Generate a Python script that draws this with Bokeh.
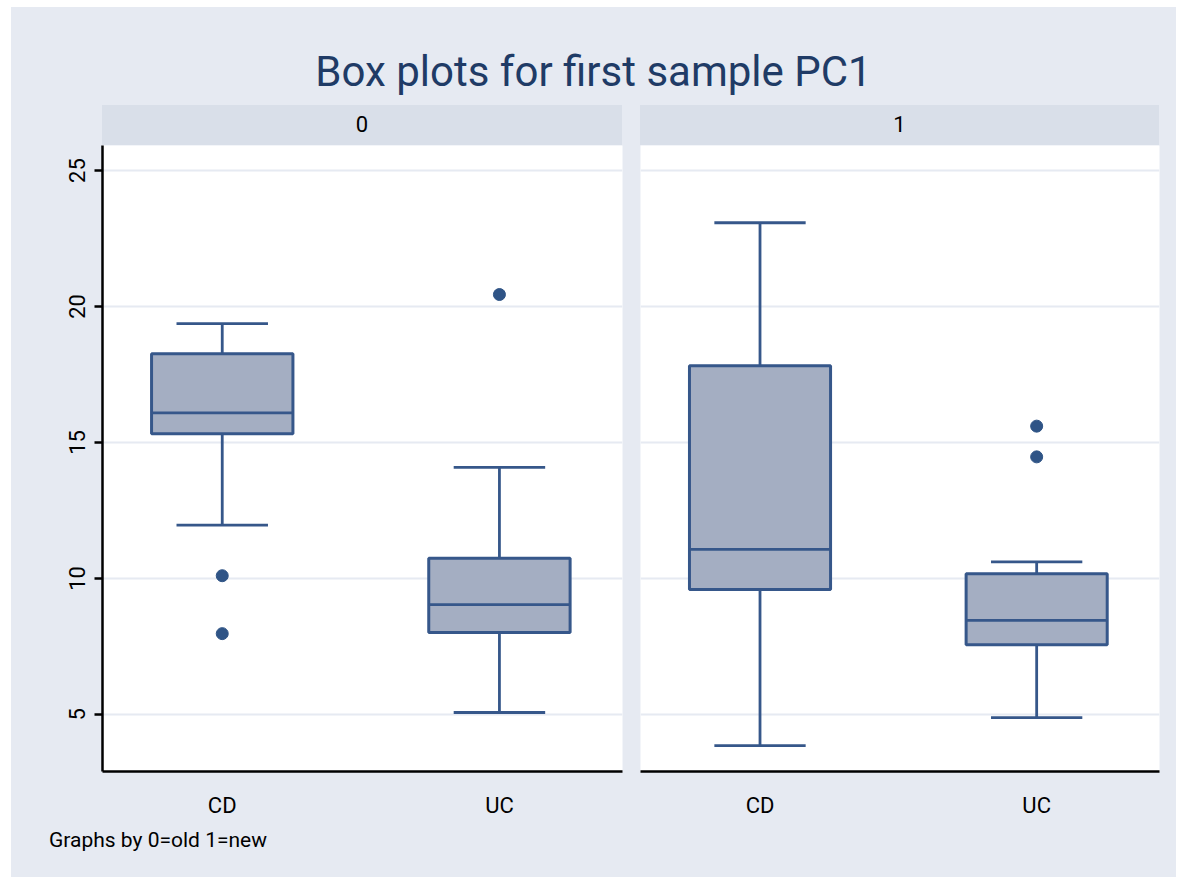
from bokeh.plotting import figure
from bokeh.layouts import column, row
from bokeh.models import Div, FixedTicker, Range1d
from bokeh.embed import file_html
from bokeh.resources import INLINE

# ---- data ----
panels = ["0", "1"]
groups = ["CD", "UC"]
# per panel: [CD, UC]
lower_whisker = {"0": [11.96, 5.07], "1": [3.85, 4.88]}
q1 = {"0": [15.32, 8.01], "1": [9.59, 7.56]}
median = {"0": [16.09, 9.04], "1": [11.07, 8.46]}
q3 = {"0": [18.26, 10.74], "1": [17.82, 10.17]}
upper_whisker = {"0": [19.37, 14.08], "1": [23.08, 10.61]}
outliers = {
    "0": {"CD": [10.10, 7.97], "UC": [20.44]},
    "1": {"CD": [], "UC": [15.60, 14.47]},
}
y_ticks = [5, 10, 15, 20, 25]
title_text = "Box plots for first sample PC1"
note_text = "Graphs by 0=old 1=new"

# ---- style ----
FONT = "Roboto"
BG = "#e6eaf2"
STRIP = "#d9dfe9"
LINE = "#36578a"
FILL = "#a4aec2"
DOT = "#2f5486"
TITLE_C = "#1f3b66"

xpos = [1, 2]
box_w = 0.51
cap_w = 0.33


def make_panel(key, left_axis, width, bl, br):
    p = figure(width=width, height=676, output_backend="svg", toolbar_location=None,
               x_range=Range1d(0.568, 2.444), y_range=Range1d(2.9, 25.92),
               min_border_left=bl, min_border_right=br, min_border_top=0,
               min_border_bottom=50)
    p.background_fill_color = "white"
    p.border_fill_color = BG
    p.outline_line_color = None
    p.xgrid.visible = False
    p.ygrid.ticker = FixedTicker(ticks=y_ticks)
    p.ygrid.grid_line_color = BG
    p.ygrid.grid_line_width = 2

    xa = p.xaxis[0]
    xa.ticker = FixedTicker(ticks=xpos)
    xa.major_label_overrides = {1: groups[0], 2: groups[1]}
    xa.axis_line_color = "black"
    xa.axis_line_width = 2.5
    xa.major_tick_line_color = None
    xa.minor_tick_line_color = None
    xa.major_label_text_font = FONT
    xa.major_label_text_font_size = "22px"
    xa.major_label_text_color = "black"
    xa.major_label_standoff = 15

    ya = p.yaxis[0]
    if left_axis:
        ya.ticker = FixedTicker(ticks=y_ticks)
        ya.axis_line_color = "black"
        ya.axis_line_width = 2.5
        ya.major_tick_line_color = "black"
        ya.major_tick_line_width = 2.5
        ya.major_tick_out = 8
        ya.major_tick_in = 0
        ya.minor_tick_line_color = None
        ya.major_label_orientation = "vertical"
        ya.major_label_text_font = FONT
        ya.major_label_text_font_size = "22px"
        ya.major_label_text_color = "black"
        ya.major_label_standoff = 9
    else:
        ya.visible = False

    lw = lower_whisker[key]
    a = q1[key]
    m = median[key]
    b = q3[key]
    uw = upper_whisker[key]
    # whiskers
    p.segment(x0=xpos, y0=b, x1=xpos, y1=uw, line_color=LINE, line_width=2.8)
    p.segment(x0=xpos, y0=a, x1=xpos, y1=lw, line_color=LINE, line_width=2.8)
    # caps
    p.segment(x0=[x - cap_w / 2 for x in xpos], y0=uw, x1=[x + cap_w / 2 for x in xpos], y1=uw,
              line_color=LINE, line_width=2.8)
    p.segment(x0=[x - cap_w / 2 for x in xpos], y0=lw, x1=[x + cap_w / 2 for x in xpos], y1=lw,
              line_color=LINE, line_width=2.8)
    # boxes
    p.vbar(x=xpos, bottom=a, top=b, width=box_w, fill_color=FILL, line_color=LINE, line_width=3)
    # medians
    p.segment(x0=[x - box_w / 2 for x in xpos], y0=m, x1=[x + box_w / 2 for x in xpos], y1=m,
              line_color=LINE, line_width=2.8)
    # outliers
    ox, oy = [], []
    for i, g in enumerate(groups):
        for v in outliers[key][g]:
            ox.append(xpos[i])
            oy.append(v)
    if ox:
        p.scatter(ox, oy, size=12, fill_color=DOT, line_color=DOT)
    return p


p0 = make_panel("0", True, 620, 91, 9)
p1 = make_panel("1", False, 545, 9, 17)


def strip(label, width, ml, mr):
    return Div(text=f'<div style="width:{width}px;height:40px;line-height:40px;text-align:center;'
                    f'background:{STRIP};font-family:\'{FONT}\';font-size:22px;color:black">{label}</div>',
               width=width, height=40, margin=(0, mr, 0, ml))


s0 = strip(panels[0], 520, 91, 9)
s1 = strip(panels[1], 519, 9, 17)

title = Div(text=f'<div style="width:1165px;height:98px;text-align:center;font-family:\'{FONT}\';'
                 f'font-size:42px;line-height:44px;padding-top:43px;box-sizing:border-box;color:{TITLE_C}">'
                 f'{title_text}</div>', width=1165, height=98, margin=(0, 0, 0, 0))
note = Div(text=f'<div style="width:1127px;height:56px;font-family:\'{FONT}\';font-size:21px;'
                f'line-height:22px;padding-top:8px;box-sizing:border-box;color:black">{note_text}</div>',
           width=1127, height=56, margin=(0, 0, 0, 38))

layout = column(
    title,
    row(column(s0, p0, margin=(0, 0, 0, 0)), column(s1, p1, margin=(0, 0, 0, 0)), margin=(0, 0, 0, 0)),
    note,
    margin=(7, 8, 8, 11),
    styles={"background-color": BG},
)

open("out.html", "w").write(file_html(layout, INLINE))
